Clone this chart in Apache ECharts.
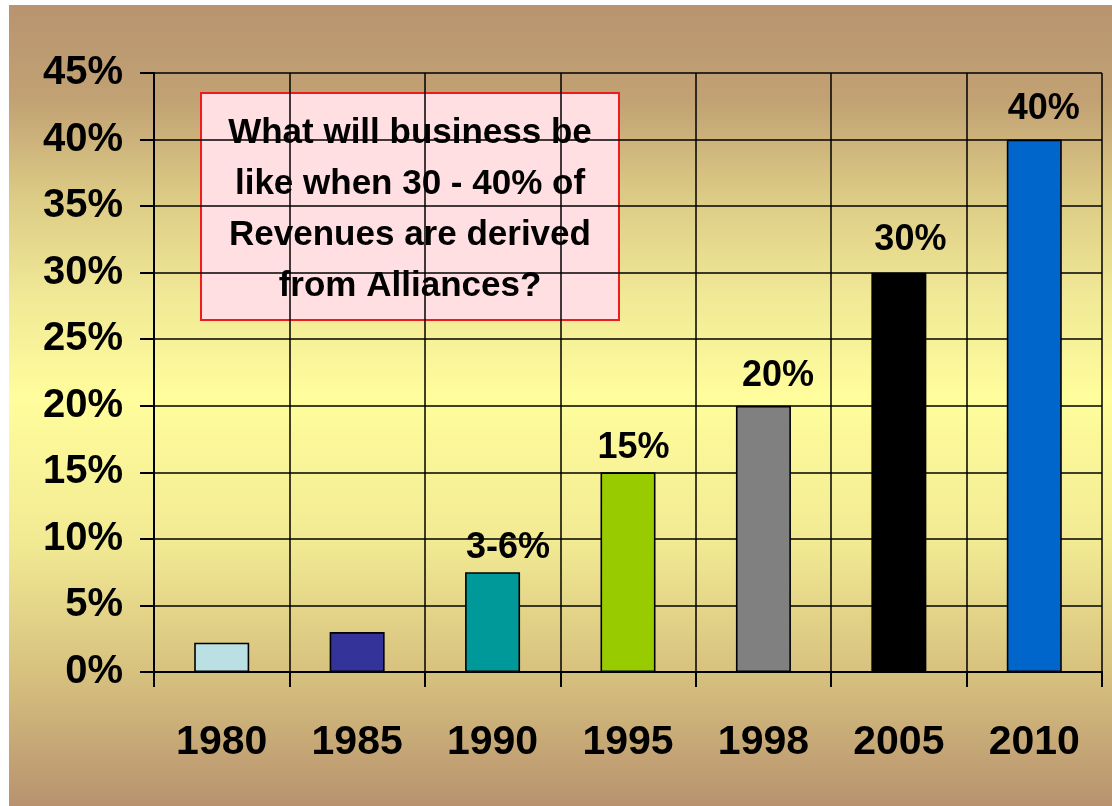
<!DOCTYPE html>
<html>
<head>
<meta charset="utf-8">
<script src="https://cdn.jsdelivr.net/npm/echarts@6/dist/echarts.min.js"></script>
<style>
  html, body { margin: 0; padding: 0; background: #ffffff; }
  #chart { position: absolute; left: 9px; top: 5px; width: 1103px; height: 801px; }
</style>
</head>
<body>
<div id="chart"></div>
<script>
// Share of revenues derived from alliances, by year
const years = ['1980', '1985', '1990', '1995', '1998', '2005', '2010'];
const shares = [2.2, 3.0, 7.5, 15, 20, 30, 40];
const barLabels = ['', '', '3-6%', '15%', '20%', '30%', '40%'];
const barColors = ['#BBE0E3', '#333399', '#009999', '#99CC00', '#808080', '#000000', '#0066CC'];
const yMin = 0;
const yMax = 45;
const yStep = 5;
const noteLines = ['What will business be', 'like when 30 - 40% of', 'Revenues are derived', 'from Alliances?'];

// Small hand nudges for the value labels above the bars (px)
const labelNudge = [[0, 0], [0, 0], [1, 0], [-3, 0], [6, -6], [3, -9], [1, -6]];

const bodyFont = "'Liberation Sans', Arial, sans-serif";

const chart = echarts.init(document.getElementById('chart'), null, { renderer: 'canvas' });

chart.setOption({
  animation: false,
  backgroundColor: {
    type: 'linear', x: 0, y: 0, x2: 0, y2: 1,
    colorStops: [
      { offset: 0.00, color: '#B8946F' },
      { offset: 0.12, color: '#C2A274' },
      { offset: 0.24, color: '#DCCB85' },
      { offset: 0.36, color: '#F0E896' },
      { offset: 0.49, color: '#FFFD9C' },
      { offset: 0.67, color: '#F2EA93' },
      { offset: 0.83, color: '#D7C27F' },
      { offset: 1.00, color: '#B8926F' }
    ]
  },
  grid: { left: 145, right: 10, top: 68, bottom: 134, containLabel: false },
  xAxis: {
    type: 'category',
    data: years,
    boundaryGap: true,
    axisLine: { show: true, lineStyle: { color: '#000', width: 2 } },
    axisTick: { show: true, interval: 0, length: 15, lineStyle: { color: '#000', width: 2 } },
    splitLine: { show: true, interval: 0, lineStyle: { color: '#000', width: 1.5 } },
    axisLabel: {
      interval: 0,
      margin: 50,
      color: '#000',
      fontFamily: bodyFont,
      fontWeight: 'bold',
      fontSize: 41
    }
  },
  yAxis: {
    type: 'value',
    min: yMin,
    max: yMax,
    interval: yStep,
    axisLine: { show: true, lineStyle: { color: '#000', width: 2 } },
    axisTick: { show: true, length: 14, lineStyle: { color: '#000', width: 2 } },
    splitLine: { show: true, lineStyle: { color: '#000', width: 1.5 } },
    axisLabel: {
      margin: 31,
      formatter: '{value}%',
      color: '#000',
      fontFamily: bodyFont,
      fontWeight: 'bold',
      fontSize: 40
    }
  },
  series: [{
    type: 'bar',
    barWidth: 55,
    data: shares.map((v, i) => ({
      value: v,
      itemStyle: { color: barColors[i] },
      label: { offset: labelNudge[i] }
    })),
    itemStyle: { borderColor: '#000', borderWidth: 1.6 },
    label: {
      show: true,
      position: [0, -6],
      align: 'left',
      verticalAlign: 'bottom',
      formatter: p => barLabels[p.dataIndex],
      color: '#000',
      fontFamily: bodyFont,
      fontWeight: 'bold',
      fontSize: 36,
      textShadowColor: '#9C9CB4',
      textShadowOffsetX: 2,
      textShadowOffsetY: 2,
      textShadowBlur: 0
    }
  }],
  graphic: [{
    type: 'group',
    left: 191,
    top: 87,
    children: [{
      type: 'rect',
      shape: { x: 0, y: 0, width: 418, height: 227 },
      style: { fill: '#FFDFE2', stroke: '#EE1C1C', lineWidth: 2 }
    }, {
      type: 'text',
      x: 209,
      y: 117,
      style: {
        text: noteLines.join('\n'),
        fill: '#000',
        font: 'bold 35px ' + bodyFont,
        align: 'center',
        verticalAlign: 'middle',
        lineHeight: 51,
        textShadowColor: '#ffffff',
        textShadowOffsetX: 2,
        textShadowOffsetY: 2,
        textShadowBlur: 0
      }
    }]
  }]
});
</script>
</body>
</html>
